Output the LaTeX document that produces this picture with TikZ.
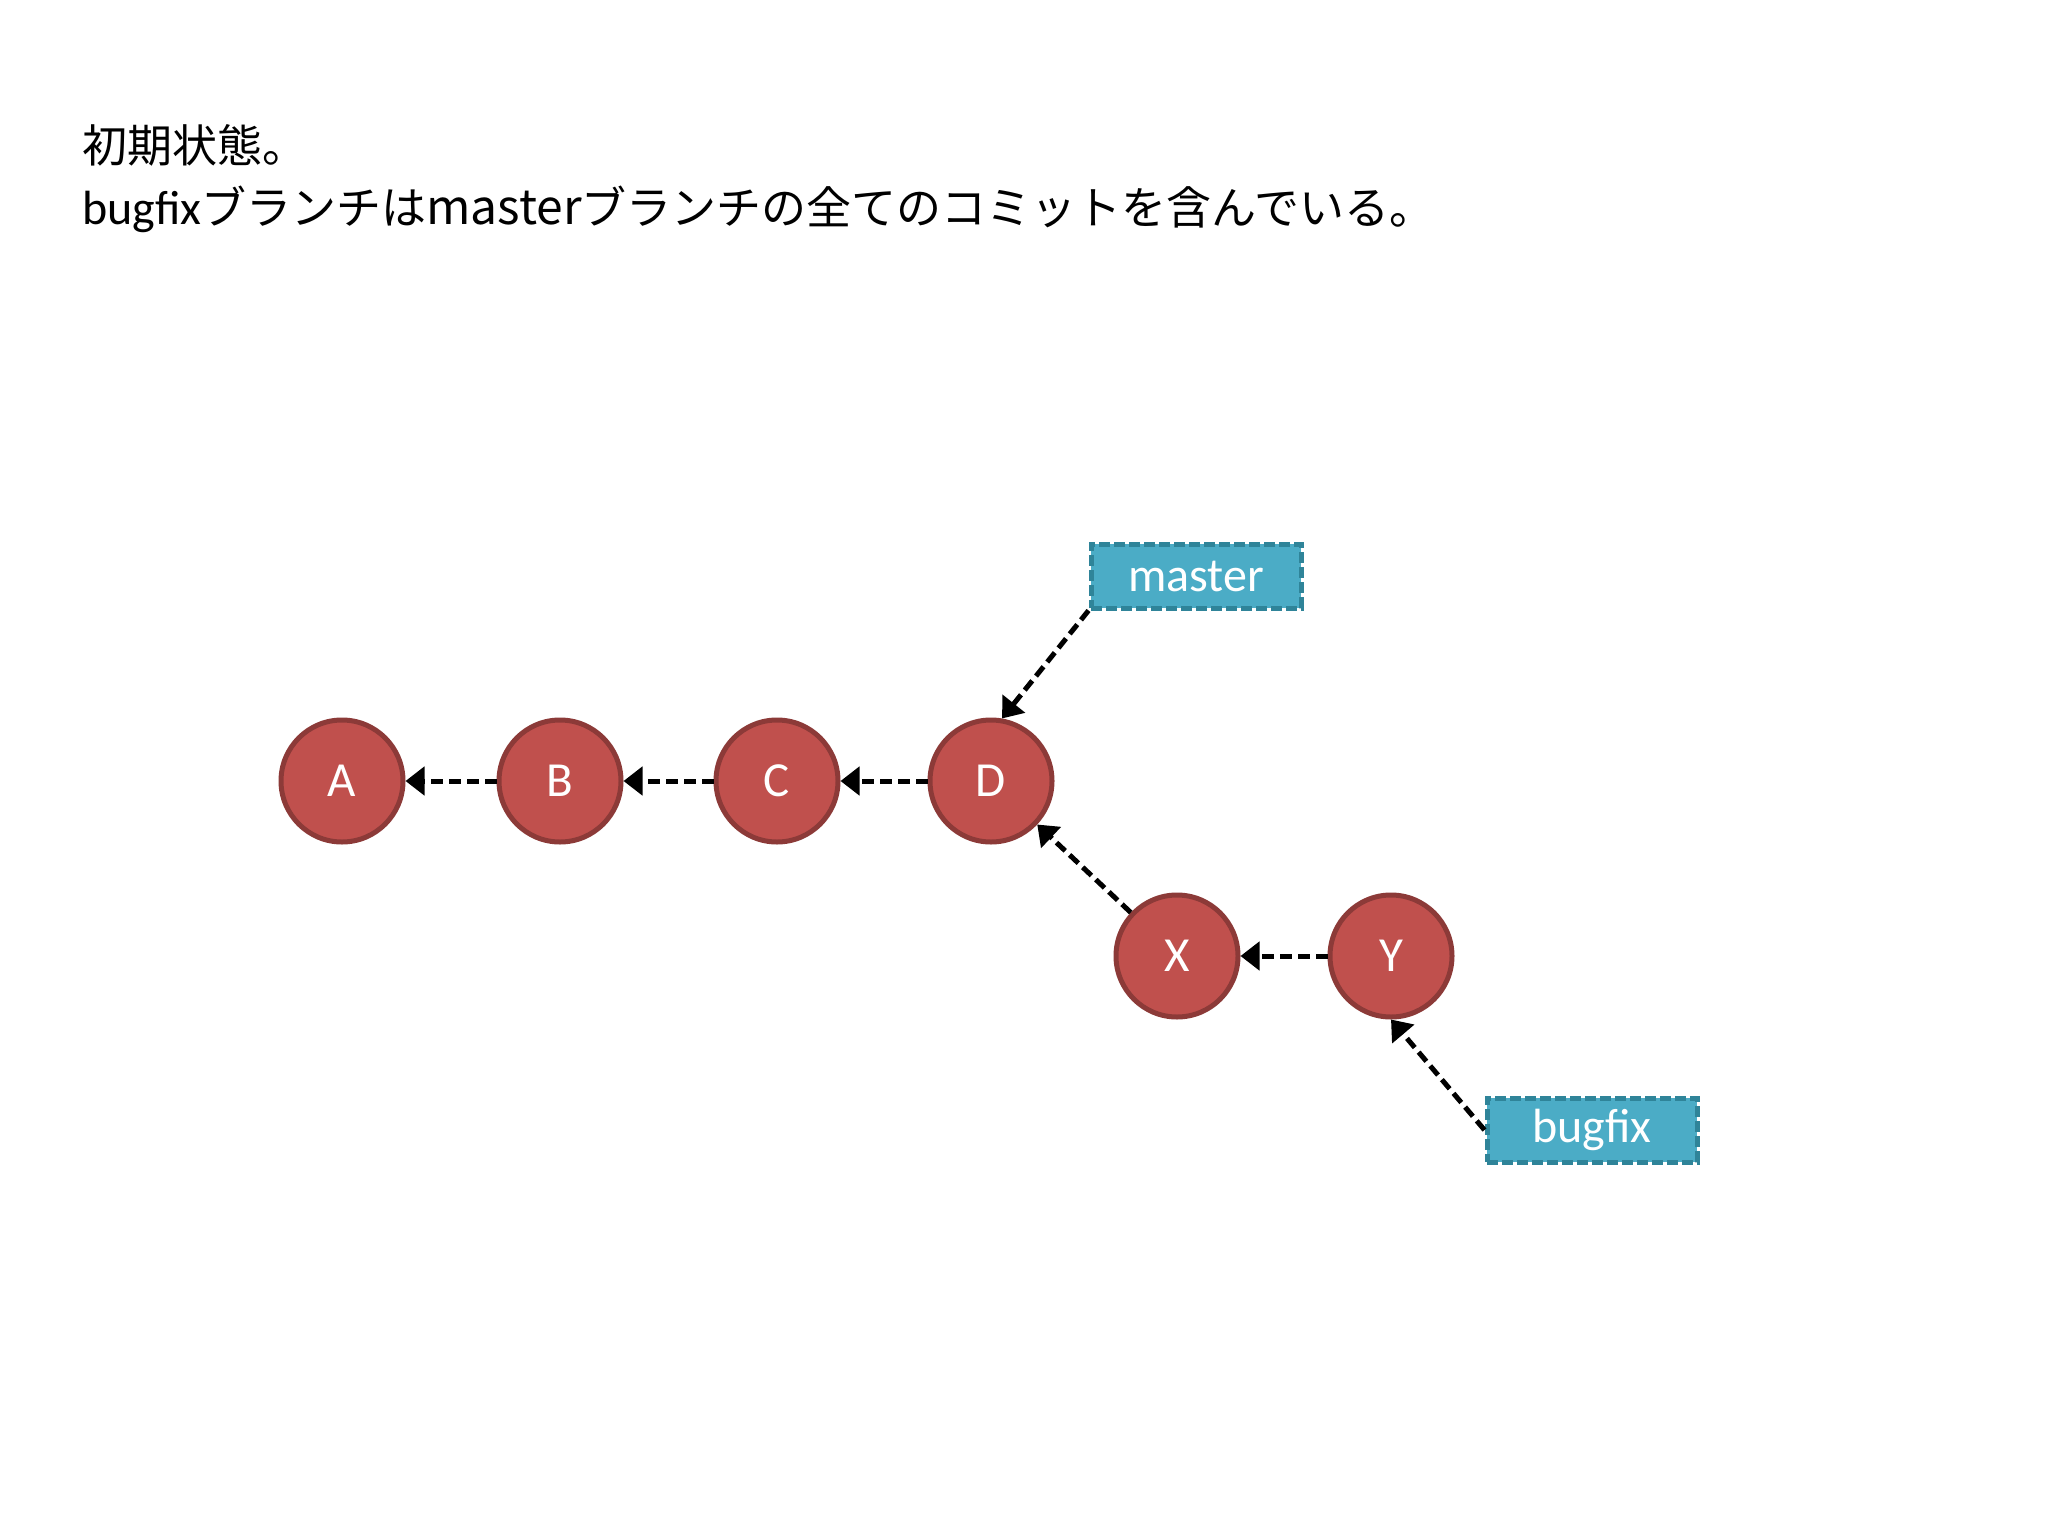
\documentclass[tikz,border=0pt]{standalone}
\usepackage{fontspec}
\setmainfont{Carlito}
\newfontfamily\cjk{Noto Sans CJK JP}
\usetikzlibrary{arrows.meta}
\definecolor{nodefill}{HTML}{C0504D}
\definecolor{nodeedge}{HTML}{8C3A38}
\definecolor{tagfill}{HTML}{4BACC6}
\definecolor{tagedge}{HTML}{2F8499}
\newcommand\jpf{\cjk\fontsize{45}{45}\selectfont}
\newcommand\ltf{\fontsize{48}{48}\selectfont}
\begin{document}
\begin{tikzpicture}[x=1pt,y=-1pt,
 commit/.style={circle, fill=nodefill, draw=nodeedge, line width=5pt, minimum size=122pt, inner sep=0pt, text=white, font=\fontsize{49}{49}\selectfont},
 tag/.style={rectangle, fill=tagfill, draw=tagedge, line width=5pt, dash pattern=on 11pt off 4pt, minimum width=210pt, minimum height=64pt, inner sep=0pt, text=white, font=\fontsize{48}{48}\selectfont},
 link/.style={draw=black, line width=5pt, dash pattern=on 12pt off 6pt, -{Triangle[length=19pt,width=28pt]}},
 title/.style={anchor=base west, inner sep=0pt}]
\useasboundingbox (0,0) rectangle (2048,1536);
\fill[white] (0,0) rectangle (2048,1536);

\node[title] (t1) at (82,163) {\jpf 初期状態。};
\node[title] (t2) at (82,224) {\ltf bugfix\jpf ブランチは\ltf master\jpf ブランチの全てのコミットを含んでいる。};

\node[commit] (A) at (342,781) {A};
\node[commit] (B) at (560,781) {B};
\node[commit] (C) at (777,781) {C};
\node[commit] (D) at (991,781) {D};
\node[commit] (X) at (1177,956) {X};
\node[commit] (Y) at (1391,956) {Y};

\node[tag] (master) at (1196,576) {master};
\node[tag] (bugfix) at (1592,1130) {bugfix};

\draw[link] (B) -- (A);
\draw[link] (C) -- (B);
\draw[link] (D) -- (C);
\draw[link] (X) -- (D);
\draw[link] (Y) -- (X);
\draw[link] (master.south west) -- (D.80);
\draw[link] (bugfix.west) -- (Y.south);
\end{tikzpicture}
\end{document}
